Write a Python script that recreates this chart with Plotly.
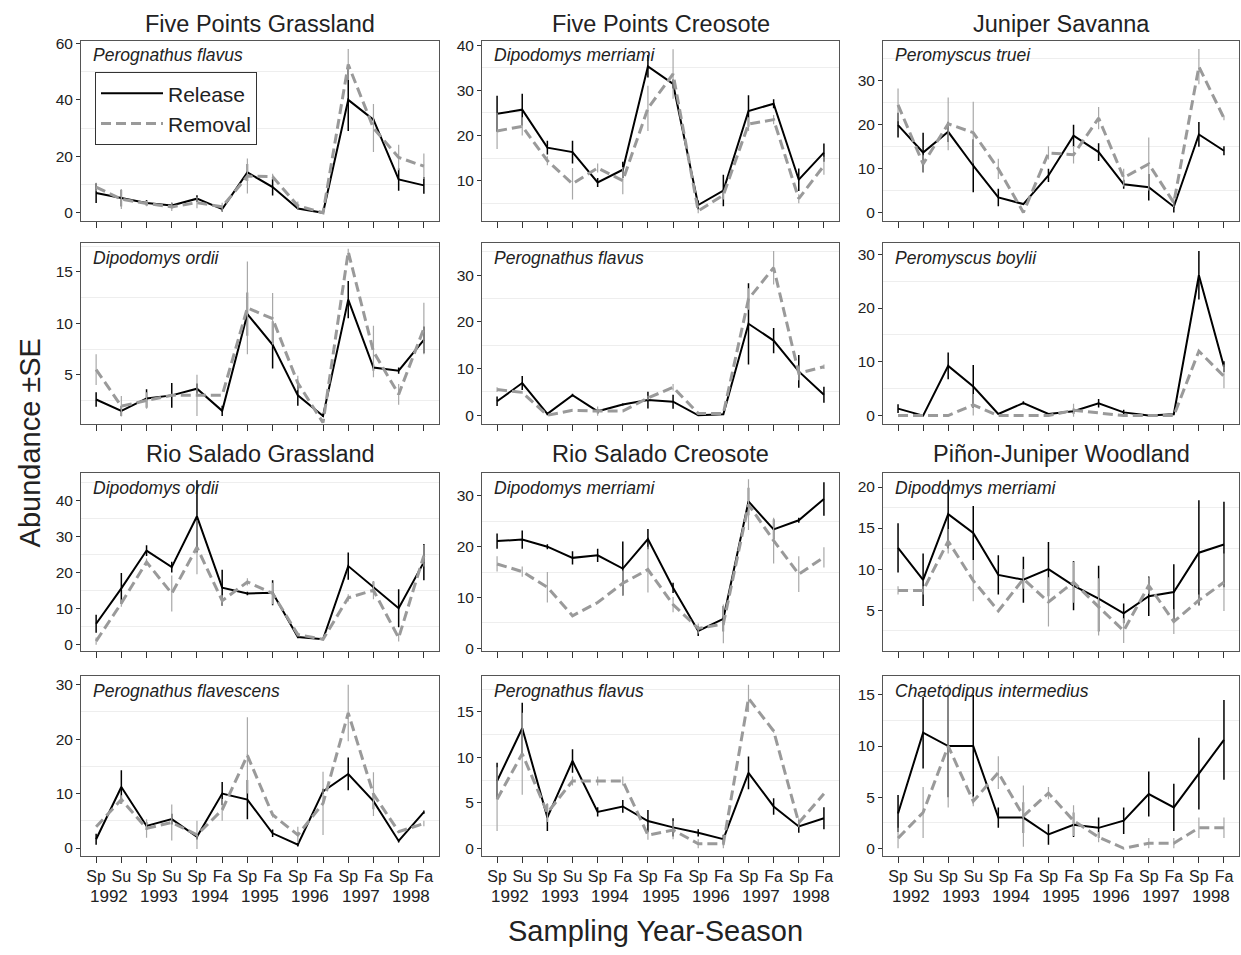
import plotly.graph_objects as go

# ---------------- data ----------------
seasons = ["Sp", "Su", "Sp", "Su", "Sp", "Fa", "Sp", "Fa", "Sp", "Fa", "Sp", "Fa", "Sp", "Fa"]
years = ["1992", "1993", "1994", "1995", "1996", "1997", "1998"]

site_titles = ["Five Points Grassland", "Five Points Creosote", "Juniper Savanna",
               "Rio Salado Grassland", "Rio Salado Creosote", "Piñon-Juniper Woodland"]

species = ["Perognathus flavus", "Dipodomys merriami", "Peromyscus truei",
           "Dipodomys ordii", "Perognathus flavus", "Peromyscus boylii",
           "Dipodomys ordii", "Dipodomys merriami", "Dipodomys merriami",
           "Perognathus flavescens", "Perognathus flavus", "Chaetodipus intermedius"]

# Five Points Grassland - Perognathus flavus
p1_release = [7.0, 5.2, 3.5, 2.6, 5.0, 1.3, 14.3, 9.1, 1.5, 0.0, 40.0, 33.0, 11.8, 9.7]
p1_release_se = [3.5, 3.0, 1.0, 1.0, 1.2, 0.8, 3.0, 3.0, 0.5, 0.0, 11.0, 0.5, 4.0, 3.0]
p1_removal = [9.1, 4.8, 3.3, 2.1, 3.6, 2.1, 13.0, 12.8, 2.5, 0.0, 52.5, 30.0, 19.6, 16.5]
p1_removal_se = [1.5, 3.5, 1.0, 1.5, 2.0, 1.5, 6.2, 1.0, 1.5, 0.0, 5.5, 8.5, 4.5, 4.5]

# Five Points Creosote - Dipodomys merriami
p2_release = [24.8, 25.7, 17.3, 16.3, 9.6, 12.4, 35.3, 31.4, 4.6, 7.8, 25.4, 27.0, 10.2, 16.2]
p2_release_se = [4.0, 3.5, 1.5, 2.5, 1.0, 1.8, 2.5, 1.0, 1.0, 3.5, 3.5, 1.0, 2.5, 2.0]
p2_removal = [21.0, 22.0, 14.4, 9.3, 12.8, 10.0, 26.0, 33.6, 3.3, 6.8, 22.5, 23.5, 6.0, 13.3]
p2_removal_se = [4.0, 2.0, 1.0, 3.5, 1.0, 3.0, 5.0, 5.5, 0.5, 1.0, 1.5, 1.0, 1.0, 2.0]

# Juniper Savanna - Peromyscus truei
p3_release = [19.8, 13.6, 18.3, 10.6, 3.4, 1.9, 8.4, 17.4, 13.7, 6.4, 5.7, 1.3, 17.7, 14.0]
p3_release_se = [2.8, 4.5, 2.3, 6.0, 2.0, 0.0, 1.5, 2.5, 2.0, 1.0, 3.0, 1.3, 2.8, 1.0]
p3_removal = [24.4, 11.0, 20.1, 18.1, 9.9, 0.0, 13.5, 13.1, 21.4, 7.9, 11.0, 2.2, 33.1, 21.4]
p3_removal_se = [3.7, 2.0, 6.0, 7.0, 2.3, 0.0, 1.5, 2.0, 2.5, 2.0, 6.0, 1.0, 4.0, 0.5]

# Five Points Grassland - Dipodomys ordii
p4_release = [2.6, 1.5, 2.7, 3.0, 3.65, 1.5, 10.9, 7.9, 3.0, 1.0, 12.3, 5.7, 5.4, 8.4]
p4_release_se = [0.7, 0.5, 0.9, 1.2, 0.5, 0.5, 2.1, 2.3, 1.0, 0.1, 1.8, 0.3, 0.3, 1.3]
p4_removal = [5.5, 1.95, 2.5, 3.0, 3.0, 3.0, 11.5, 10.45, 4.2, 0.35, 16.95, 7.25, 3.1, 9.5]
p4_removal_se = [1.5, 1.0, 0.8, 0.0, 2.0, 0.0, 4.5, 2.5, 0.7, 0.0, 0.3, 2.5, 1.0, 2.5]

# Five Points Creosote - Perognathus flavus
p5_release = [3.0, 6.9, 0.3, 4.3, 0.85, 2.3, 3.25, 2.9, 0.0, 0.2, 19.6, 16.0, 9.4, 4.4]
p5_release_se = [1.0, 1.5, 0.3, 0.3, 0.5, 0.2, 1.8, 1.5, 0.0, 0.0, 8.7, 2.7, 3.5, 1.7]
p5_removal = [5.5, 4.9, 0.0, 1.05, 0.9, 0.9, 3.7, 6.0, 0.4, 0.4, 24.9, 31.6, 9.0, 10.4]
p5_removal_se = [0.5, 0.3, 0.0, 0.0, 1.0, 0.0, 0.5, 0.7, 0.0, 0.0, 2.3, 3.6, 1.5, 0.5]

# Juniper Savanna - Peromyscus boylii
p6_release = [1.3, 0.0, 9.25, 5.4, 0.3, 2.35, 0.3, 0.8, 2.3, 0.6, 0.0, 0.25, 26.1, 9.1]
p6_release_se = [0.8, 0.0, 2.5, 4.0, 0.0, 0.3, 0.0, 0.5, 0.8, 0.5, 0.0, 0.0, 4.5, 1.0]
p6_removal = [0.0, 0.0, 0.0, 2.0, 0.0, 0.0, 0.0, 1.0, 0.5, 0.0, 0.0, 0.0, 12.0, 7.3]
p6_removal_se = [0.0, 0.0, 0.0, 2.0, 0.0, 0.0, 0.0, 1.2, 0.0, 0.0, 0.0, 0.0, 0.0, 2.2]

# Rio Salado Grassland - Dipodomys ordii
p7_release = [5.7, 15.5, 26.0, 21.4, 35.5, 15.7, 14.1, 14.3, 2.0, 1.4, 21.7, 15.9, 10.0, 22.8]
p7_release_se = [2.5, 4.3, 1.5, 1.5, 10.0, 5.0, 0.5, 3.5, 0.3, 0.2, 3.8, 1.5, 5.3, 5.0]
p7_removal = [0.9, 11.4, 22.8, 14.1, 26.9, 12.1, 17.3, 14.1, 2.7, 1.4, 12.9, 15.0, 1.8, 24.6]
p7_removal_se = [1.0, 1.0, 1.0, 5.0, 7.5, 1.5, 1.0, 3.0, 0.5, 0.0, 1.0, 2.5, 1.0, 3.0]

# Rio Salado Creosote - Dipodomys merriami
p8_release = [21.1, 21.4, 20.0, 17.8, 18.3, 15.7, 21.5, 11.9, 3.4, 5.8, 28.9, 23.4, 25.2, 29.4]
p8_release_se = [1.5, 1.8, 0.5, 1.3, 1.3, 5.3, 2.0, 1.0, 1.0, 2.5, 2.7, 2.0, 0.5, 3.3]
p8_removal = [16.6, 15.1, 12.0, 6.4, 9.0, 12.8, 15.5, 8.6, 3.9, 4.8, 28.3, 21.2, 14.6, 17.9]
p8_removal_se = [1.5, 1.0, 3.0, 0.0, 0.0, 2.5, 4.5, 1.5, 1.0, 3.8, 5.0, 4.5, 3.5, 2.0]

# Pinon-Juniper Woodland - Dipodomys merriami
p9_release = [12.6, 8.7, 16.7, 14.4, 9.3, 8.7, 10.0, 8.0, 6.4, 4.6, 6.7, 7.2, 12.0, 13.0]
p9_release_se = [3.0, 3.2, 4.2, 3.3, 2.4, 2.8, 3.3, 3.0, 4.0, 1.2, 2.4, 3.4, 6.4, 5.2]
p9_removal = [7.4, 7.4, 13.4, 8.6, 4.9, 8.8, 6.0, 8.4, 5.4, 2.5, 8.0, 3.6, 6.2, 8.4]
p9_removal_se = [0.5, 0.5, 1.5, 2.5, 0.0, 1.2, 3.0, 2.5, 3.5, 1.5, 1.0, 1.5, 0.7, 3.5]

# Rio Salado Grassland - Perognathus flavescens
p10_release = [1.6, 11.2, 4.05, 5.3, 2.05, 10.0, 8.9, 2.7, 0.6, 10.4, 13.6, 8.6, 1.3, 6.6]
p10_release_se = [1.0, 3.1, 0.7, 1.0, 0.5, 2.1, 3.6, 0.7, 0.3, 0.5, 3.0, 1.5, 0.3, 0.3]
p10_removal = [3.9, 8.9, 3.6, 4.7, 2.4, 7.0, 17.0, 6.1, 2.4, 8.2, 24.8, 9.9, 3.0, 4.5]
p10_removal_se = [0.0, 0.8, 1.7, 3.3, 2.6, 2.0, 7.0, 0.5, 1.5, 5.8, 5.2, 4.0, 0.2, 0.5]

# Rio Salado Creosote - Perognathus flavus
p11_release = [7.4, 13.2, 3.4, 9.6, 4.0, 4.6, 3.0, 2.3, 1.7, 1.0, 8.3, 4.6, 2.4, 3.3]
p11_release_se = [2.0, 2.8, 1.5, 1.3, 0.5, 0.7, 1.2, 1.0, 0.4, 0.5, 1.8, 0.9, 0.7, 1.2]
p11_removal = [5.4, 10.4, 3.9, 7.4, 7.4, 7.4, 1.45, 2.0, 0.5, 0.5, 16.5, 12.9, 2.8, 6.0]
p11_removal_se = [3.5, 4.5, 1.0, 0.5, 0.5, 0.5, 0.5, 1.0, 0.5, 0.5, 1.5, 0.2, 0.5, 0.0]

# Pinon-Juniper Woodland - Chaetodipus intermedius
p12_release = [3.4, 11.3, 10.0, 10.0, 3.0, 3.0, 1.35, 2.3, 2.0, 2.7, 5.3, 4.0, 7.3, 10.6]
p12_release_se = [1.8, 3.5, 5.0, 5.0, 1.0, 1.5, 1.0, 1.2, 1.0, 1.3, 2.2, 2.3, 3.5, 3.9]
p12_removal = [1.0, 3.5, 10.0, 4.6, 7.4, 3.15, 5.4, 2.7, 1.1, 0.0, 0.5, 0.5, 2.0, 2.0]
p12_removal_se = [1.0, 2.5, 6.0, 0.5, 1.6, 3.0, 0.6, 1.5, 0.5, 0.0, 0.5, 0.5, 1.0, 1.0]

# y-axis tick values per panel
yticks = [[0, 20, 40, 60], [10, 20, 30, 40], [0, 10, 20, 30],
          [5, 10, 15], [0, 10, 20, 30], [0, 10, 20, 30],
          [0, 10, 20, 30, 40], [0, 10, 20, 30], [5, 10, 15, 20],
          [0, 10, 20, 30], [0, 5, 10, 15], [0, 5, 10, 15]]

release_series = [p1_release, p2_release, p3_release, p4_release, p5_release, p6_release,
                  p7_release, p8_release, p9_release, p10_release, p11_release, p12_release]
release_ses = [p1_release_se, p2_release_se, p3_release_se, p4_release_se, p5_release_se, p6_release_se,
               p7_release_se, p8_release_se, p9_release_se, p10_release_se, p11_release_se, p12_release_se]
removal_series = [p1_removal, p2_removal, p3_removal, p4_removal, p5_removal, p6_removal,
                  p7_removal, p8_removal, p9_removal, p10_removal, p11_removal, p12_removal]
removal_ses = [p1_removal_se, p2_removal_se, p3_removal_se, p4_removal_se, p5_removal_se, p6_removal_se,
               p7_removal_se, p8_removal_se, p9_removal_se, p10_removal_se, p11_removal_se, p12_removal_se]

# ---------------- layout geometry ----------------
W, H = 1241, 955
FONT = "Liberation Sans, Arial, sans-serif"
TXT = "#222222"
GRAY = "#9a9a9a"

col_px = [(81, 439), (482, 839), (883, 1239)]
row_px = [(35, 218), (240, 423), (473, 653), (679, 861)]
y_ranges = [[-3, 61], [1, 41], [-2, 39],
            [0.25, 17.8], [-1.8, 36.9], [-1.5, 32.1],
            [-1.8, 47.5], [-0.5, 34.5], [0.05, 21.7],
            [-1.5, 31.5], [-0.87, 18.9], [-0.77, 16.8]]
minor_step = [20, 10, 10, 5, 10, 10, 10, 10, 5, 10, 5, 5]

x = list(range(len(seasons)))

fig = go.Figure()
layout = {}
annotations = []

for k in range(12):
    r, c = divmod(k, 3)
    ax = "" if k == 0 else str(k + 1)
    xa, ya = "x" + ax, "y" + ax
    x0, x1 = col_px[c]
    y0, y1 = row_px[r]
    dom_x = [x0 / W, x1 / W]
    dom_y = [1 - y1 / H, 1 - y0 / H]
    bottom = (r == 3)
    layout["xaxis" + ax] = dict(
        domain=dom_x, anchor=ya, range=[-0.6, len(seasons) - 0.4],
        tickmode="array", tickvals=x, ticktext=seasons,
        showticklabels=bottom, ticks="outside", ticklen=6, tickcolor="#333",
        tickwidth=1, showline=True, mirror=True, linecolor="#555", linewidth=1,
        showgrid=False, zeroline=False,
        tickfont=dict(family=FONT, size=16, color=TXT),
    )
    st = minor_step[k]
    layout["yaxis" + ax] = dict(
        domain=dom_y, anchor=xa, range=y_ranges[k],
        tickmode="array", tickvals=yticks[k],
        ticks="outside", ticklen=4, tickcolor="#333", tickwidth=1,
        showline=True, mirror=True, linecolor="#555", linewidth=1,
        showgrid=False, zeroline=False,
        minor=dict(tickmode="linear", tick0=st / 2, dtick=st, showgrid=True,
                   gridcolor="#eeeeee", gridwidth=1),
        tickfont=dict(family=FONT, size=15.5, color=TXT),
    )

    fig.add_trace(go.Scatter(
        x=x, y=release_series[k], xaxis=xa, yaxis=ya, mode="lines",
        name="Release", legendgroup="rel", showlegend=(k == 0),
        line=dict(color="black", width=2),
        error_y=dict(type="data", array=release_ses[k], color="black",
                     thickness=1.5, width=0),
    ))
    fig.add_trace(go.Scatter(
        x=x, y=removal_series[k], xaxis=xa, yaxis=ya, mode="lines",
        name="Removal", legendgroup="rem", showlegend=(k == 0),
        line=dict(color=GRAY, width=3, dash="10px,5px"),
        error_y=dict(type="data", array=removal_ses[k], color="#a8a8a8",
                     thickness=1.2, width=0),
    ))

    # species label
    annotations.append(dict(
        text=species[k], xref=xa + " domain", yref=ya + " domain",
        x=0.027, y=0.918, xanchor="left", yanchor="middle", showarrow=False,
        font=dict(family=FONT, size=17.5, color=TXT, style="italic"),
    ))

    if bottom:
        for i, yr in enumerate(years):
            annotations.append(dict(
                text=yr, xref=xa, yref="paper", x=2 * i + 0.5, y=1 - 902 / H,
                xanchor="center", yanchor="middle", showarrow=False,
                font=dict(family=FONT, size=17, color=TXT),
            ))

# site titles
for i, t in enumerate(site_titles):
    c = i % 3
    ypix = 18 if i < 3 else 454
    x0, x1 = col_px[c]
    annotations.append(dict(
        text=t, xref="paper", yref="paper", x=(x0 + x1) / 2 / W, y=1 - ypix / H,
        xanchor="center", yanchor="middle", showarrow=False,
        font=dict(family=FONT, size=23.5, color=TXT),
    ))

# axis titles
annotations.append(dict(
    text="Abundance ±SE", xref="paper", yref="paper", x=30 / W, y=1 - 443 / H,
    xanchor="center", yanchor="middle", textangle=-90, showarrow=False,
    font=dict(family=FONT, size=29, color=TXT),
))
annotations.append(dict(
    text="Sampling Year-Season", xref="paper", yref="paper", x=655 / W, y=1 - 937 / H,
    xanchor="center", yanchor="middle", showarrow=False,
    font=dict(family=FONT, size=29, color=TXT),
))

fig.update_layout(
    **layout,
    annotations=annotations,
    width=W, height=H,
    margin=dict(l=0, r=0, t=0, b=0),
    paper_bgcolor="white", plot_bgcolor="white",
    showlegend=True,
    legend=dict(
        x=95 / W, y=1 - 67 / H, xanchor="left", yanchor="top",
        bgcolor="white", bordercolor="#333", borderwidth=1,
        font=dict(family=FONT, size=21, color=TXT),
        itemwidth=62, tracegroupgap=0,
    ),
)

fig.write_html("out.html", config={"displayModeBar": False},
               post_script="document.body.style.margin='0';")
